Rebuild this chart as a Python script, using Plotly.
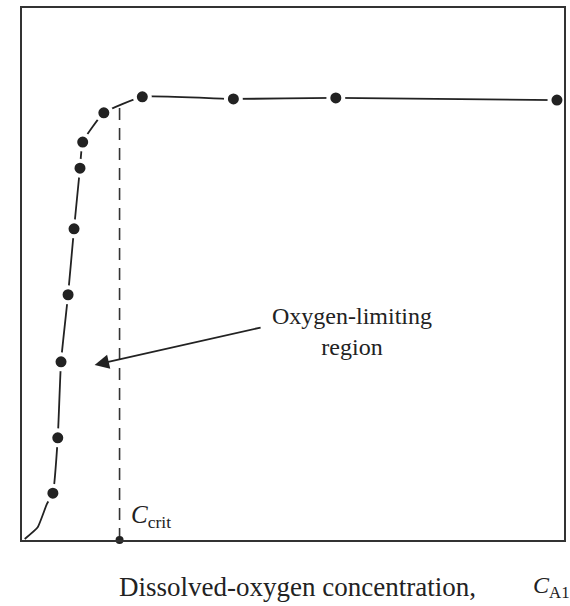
import plotly.graph_objects as go

# Data (arbitrary units)
conc = [0.57, 0.66, 0.72, 0.85, 0.96, 1.07, 1.12, 1.51, 2.22, 3.90, 5.79, 9.87]
rate = [0.88, 1.92, 3.35, 4.61, 5.85, 6.99, 7.48, 8.03, 8.33, 8.29, 8.31, 8.27]
# start of curve near the origin (no markers there)
start_x = [0.05, 0.29, 0.46]
start_y = [0.02, 0.24, 0.68]
c_crit = 1.80
c_crit_top = 8.18

curve_x = start_x + conc
curve_y = start_y + rate

fig = go.Figure()
fig.add_trace(go.Scatter(x=curve_x, y=curve_y, mode="lines",
                         line=dict(color="#222", width=1.8, shape="spline", smoothing=0.4),
                         hoverinfo="skip", showlegend=False))
fig.add_trace(go.Scatter(x=[c_crit, c_crit], y=[0, c_crit_top], mode="lines",
                         line=dict(color="#333", width=1.6, dash="12px,8px"),
                         showlegend=False))
fig.add_trace(go.Scatter(x=conc, y=rate, mode="markers",
                         marker=dict(size=15, color="#222", line=dict(color="white", width=4)),
                         showlegend=False, cliponaxis=False))
fig.add_trace(go.Scatter(x=[c_crit], y=[0], mode="markers",
                         marker=dict(size=8, color="#222"),
                         showlegend=False, cliponaxis=False))

serif = "Liberation Serif"
fig.add_annotation(x=1.34, y=3.29, ax=4.43, ay=4.00, axref="x", ayref="y",
                   text="", showarrow=True, arrowhead=2, arrowsize=1.6,
                   arrowwidth=1.8, arrowcolor="#222")
fig.add_annotation(x=6.09, y=3.91, text="Oxygen-limiting<br>region", showarrow=False,
                   font=dict(family=serif, size=24, color="#222"), align="center")
fig.add_annotation(x=1.97, y=0.45, text="<i>C</i><sub>crit</sub>", showarrow=False,
                   xanchor="left", font=dict(family=serif, size=25, color="#222"))
fig.add_annotation(x=0.1746, y=-0.056, xref="paper", yref="paper", xanchor="left", yanchor="top",
                   text="Dissolved-oxygen concentration,",
                   showarrow=False, font=dict(family=serif, size=27, color="#222"))
fig.add_annotation(x=0.94, y=-0.056, xref="paper", yref="paper", xanchor="left", yanchor="top",
                   text="<i>C</i><sub>A1</sub>",
                   showarrow=False, font=dict(family=serif, size=24, color="#222"))

axis = dict(range=[0, 10], showline=True, mirror=True, linecolor="#333", linewidth=2,
            showgrid=False, zeroline=False, showticklabels=False, ticks="")
fig.update_layout(width=570, height=606, margin=dict(l=22, r=4, t=8, b=66),
                  plot_bgcolor="white", paper_bgcolor="white",
                  xaxis=axis, yaxis=axis)
fig.write_html("out.html")
